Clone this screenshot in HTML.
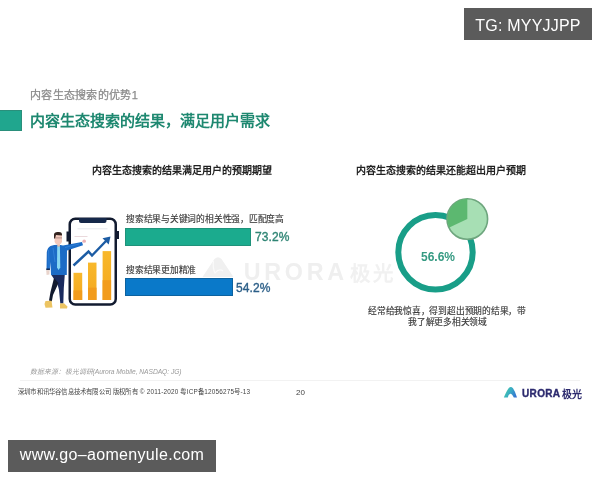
<!DOCTYPE html>
<html lang="zh-CN"><head><meta charset="utf-8">
<style>
*{margin:0;padding:0;box-sizing:border-box}
html,body{width:600px;height:480px;overflow:hidden;background:#fff}
body{position:relative;font-family:"Liberation Sans",sans-serif;color:#333}
.a{position:absolute;white-space:nowrap;line-height:1;will-change:transform}
.box{background:#5b5b5b;color:#fff;font-size:16px;height:32px}
.box span{position:absolute;top:0;left:0;right:0;text-align:center;line-height:32px}
.h{font-size:10px;font-weight:bold;color:#222}
.lbl{font-size:8.75px;letter-spacing:-0.22px;color:#3a3a3a;-webkit-text-stroke:0.15px #3a3a3a}
.pct{font-size:12px;font-weight:normal;-webkit-text-stroke:0.35px currentColor;letter-spacing:0.1px}
</style></head>
<body>
<!-- watermark -->
<svg class="a" style="left:0;top:0" width="600" height="480">
  <path d="M202.5 277 L214.5 259 Q218 255.5 221.5 259 L233.5 277 Z" fill="#f0f0f0"/>
  <path d="M213.5 261 Q212.5 268 215 273 Q219 268 223 271" fill="none" stroke="#fafafa" stroke-width="1.2"/>
  <text x="243.8" y="280" font-family="Liberation Sans, sans-serif" font-weight="bold" font-size="23.3" fill="#efefef" letter-spacing="3.7">URORA</text>
  <text x="350" y="280.5" font-family="Liberation Sans, sans-serif" font-weight="bold" font-size="20.5" letter-spacing="2.5" fill="#f1f1f1">极光</text>
  <line x1="20" y1="380.5" x2="580" y2="380.5" stroke="#f2f2f2" stroke-width="1"/>
</svg>

<div class="a" id="sub" style="left:30px;top:89.8px;font-size:11px;letter-spacing:0.3px;-webkit-text-stroke:0.25px #8a8a8a;color:#8a8a8a">内容生态搜索的优势1</div>
<div class="a" style="left:0;top:109.5px;width:22px;height:21px;background:#20a68e;border:1px solid #2a8f7b;border-left:0"></div>
<div class="a" id="title" style="left:30px;top:112.5px;font-size:15px;font-weight:bold;color:#1e8870">内容生态搜索的结果，满足用户需求</div>

<div class="a h" id="hL" style="left:92px;top:165.5px">内容生态搜索的结果满足用户的预期期望</div>
<div class="a h" id="hR" style="left:356px;top:165.5px">内容生态搜索的结果还能超出用户预期</div>

<div class="a lbl" id="lbl1" style="left:125.5px;top:214.5px">搜索结果与关键词的相关性强，匹配度高</div>
<div class="a" style="left:125px;top:228px;width:126px;height:18px;background:#1bab8e;border:1px solid #1f927a"></div>
<div class="a pct" id="p73" style="left:255px;top:231px;color:#2f8574">73.2%</div>

<div class="a lbl" id="lbl2" style="left:126px;top:265.5px">搜索结果更加精准</div>
<div class="a" style="left:125px;top:278px;width:108px;height:18px;background:#0a79c9;border:1px solid #0c629f"></div>
<div class="a pct" id="p54" style="left:236px;top:282px;color:#2c5f88">54.2%</div>

<!-- illustration -->
<svg class="a" style="left:0;top:0" width="600" height="480">
  <defs>
    <linearGradient id="g1" x1="0" y1="0" x2="0" y2="1">
      <stop offset="0" stop-color="#f8b82c"/><stop offset="1" stop-color="#f4a81e"/>
    </linearGradient>
  </defs>
  <!-- phone -->
  <rect x="69.75" y="218.75" width="46" height="85.8" rx="5.5" fill="#fff" stroke="#121b30" stroke-width="2.5"/>
  <path d="M79 218 H106.5 V221 Q106.5 223 104.5 223 H81 Q79 223 79 221Z" fill="#15284a"/>
  <rect x="66.5" y="231.5" width="2.5" height="10" fill="#121b30"/>
  <rect x="116.5" y="231" width="2.5" height="8" fill="#121b30"/>
  <line x1="77.5" y1="228.8" x2="107.5" y2="228.8" stroke="#e6e8ee" stroke-width="1"/>
  <line x1="74.5" y1="236.5" x2="87.5" y2="236.5" stroke="#ead9dc" stroke-width="1"/>
  <!-- bars -->
  <rect x="73.5" y="272.8" width="8.7" height="27.2" fill="url(#g1)"/>
  <rect x="73.5" y="290.4" width="8.7" height="9.6" fill="#f29c1c"/>
  <rect x="88" y="262.6" width="8.5" height="37.4" fill="url(#g1)"/>
  <rect x="88" y="287.7" width="8.5" height="12.3" fill="#f29c1c"/>
  <rect x="102.6" y="251.1" width="8.5" height="48.9" fill="url(#g1)"/>
  <rect x="102.6" y="280.2" width="8.5" height="19.8" fill="#f29c1c"/>
  <!-- arrow -->
  <polyline points="73.5,265.5 88.5,251.5 92,255.5 106.5,240.5" fill="none" stroke="#1c5ca4" stroke-width="2.4" stroke-linejoin="miter"/>
  <path d="M110.5 236.5 L102.5 238.3 L108.7 244.5Z" fill="#1c5ca4"/>
  <!-- man -->
  <path d="M51 274.5 L64.8 274.5 L63.8 288 L63.3 303.5 L60.3 303.5 L59 290 L57.5 284 Z" fill="#1a2b5e"/>
  <path d="M54 278 L58.5 283 L53 295 L51.8 301.5 L49 300.5 L50.5 292Z" fill="#121a2e"/>
  <path d="M45.5 301 L51.5 300.8 L52.5 307.5 L45.5 307.7 L44.5 304Z" fill="#ecc462"/>
  <path d="M60 303.5 L64 303.3 L67.5 306.5 L67 308.5 L60 308.5Z" fill="#ecc462"/>
  <path d="M50.5 246 Q57 244 63 245.5 L82 242 L83 245.2 L67 250.5 L66.8 275 L51 275 L50.5 262 L50 269.5 L46.5 269.5 L46.8 252 Q47.5 247.5 50.5 246Z" fill="#1b6bc6"/>
  <path d="M48.5 250 L49.2 268 M53 248 L55 262 M65 247.5 L79 244" stroke="#3d8ce0" stroke-width="0.8" fill="none" opacity="0.7"/>
  <rect x="46.3" y="268.5" width="3.6" height="1.6" fill="#14284e"/>
  <path d="M46.2 270.2 L49.6 270.2 L49.4 274.5 L46.6 275 Z" fill="#e9d4cc"/>
  <path d="M57.2 246.2 L59.9 246.2 L60.3 267.5 L58.6 270 L57 267.5Z" fill="#86d6f2"/>
  <rect x="57.3" y="243.5" width="2.6" height="3" fill="#eec0aa"/>
  <path d="M54.6 235 L62 235 L62 241.5 Q61.5 244.5 58.3 244.5 Q55 244.5 54.6 241.5Z" fill="#f2c9bc"/>
  <path d="M54 238.5 L54 234.5 Q54.2 231.8 58 232 Q61.8 231.6 62 234 L61.9 235.4 L56 235.1 L55 238.5Z" fill="#34241f"/>
  <line x1="54.8" y1="237.9" x2="62" y2="237.9" stroke="#7a5a58" stroke-width="0.5"/>
  <ellipse cx="84.2" cy="241.2" rx="1.8" ry="1.6" fill="#eab2b6"/>
</svg>
<!-- donut -->
<svg class="a" style="left:0;top:0" width="600" height="480">
  <circle cx="435.5" cy="252.3" r="37.2" fill="#fff" stroke="#199e88" stroke-width="6"/>
  <circle cx="467.3" cy="219" r="20.3" fill="#a7dfb4" stroke="#6ea67e" stroke-width="1.6"/>
  <path d="M467.3 219 L467.3 198.7 A20.3 20.3 0 0 0 449.3 227.5 Z" fill="#5cb870"/>
</svg>
<div class="a" id="p56" style="left:421px;top:251px;font-size:12px;font-weight:bold;color:#359a82">56.6%</div>
<div class="a lbl" id="txt1" style="left:368px;top:306.5px">经常给我惊喜，得到超出预期的结果，带</div>
<div class="a lbl" id="txt2" style="left:408px;top:318px">我了解更多相关领域</div>

<!-- footer -->
<div class="a" id="src" style="left:30px;top:369px;font-size:6.7px;letter-spacing:-0.05px;font-style:italic;color:#9a9a9a">数据来源：极光调研(Aurora Mobile, NASDAQ: JG)</div>
<div class="a" id="copy" style="left:18px;top:389px;font-size:6.4px;letter-spacing:0.2px;color:#444">深圳市和讯华谷信息技术有限公司 版权所有 © 2011-2020 粤ICP备12056275号-13</div>
<div class="a" id="n20" style="left:295.5px;top:389px;font-size:8px;color:#444">20</div>
<svg class="a" style="left:0;top:0" width="600" height="480">
  <defs><linearGradient id="lg" x1="0" y1="0.3" x2="1" y2="0.7"><stop offset="0" stop-color="#40cfa4"/><stop offset="0.5" stop-color="#3aa9c6"/><stop offset="1" stop-color="#3470d2"/></linearGradient></defs>
  <path d="M503.8 397.6 Q507 390 509 387.8 Q511 386 513 388.2 Q515.3 391.5 517 397.6 L513.8 397.6 Q512 393.5 510.2 393.8 Q508.3 394.6 507.8 397.6 Z" fill="url(#lg)"/>
</svg>
<div class="a" id="uro" style="left:521.5px;top:389px;font-size:10px;letter-spacing:0.35px;-webkit-text-stroke:0.35px #2c2a6e;font-weight:bold;color:#2c2a6e">URORA</div>
<div class="a" id="jg" style="left:561.5px;top:389.5px;font-size:10px;font-weight:bold;color:#2c2a6e">极光</div>

<div class="a box" style="left:464px;top:8px;width:128px"><span id="tg" style="top:1.8px;letter-spacing:0.2px">TG: MYYJJPP</span></div>
<div class="a box" style="left:8px;top:440px;width:208px"><span id="www" style="top:-1.5px;letter-spacing:0.32px">www.go–aomenyule.com</span></div>
</body></html>
